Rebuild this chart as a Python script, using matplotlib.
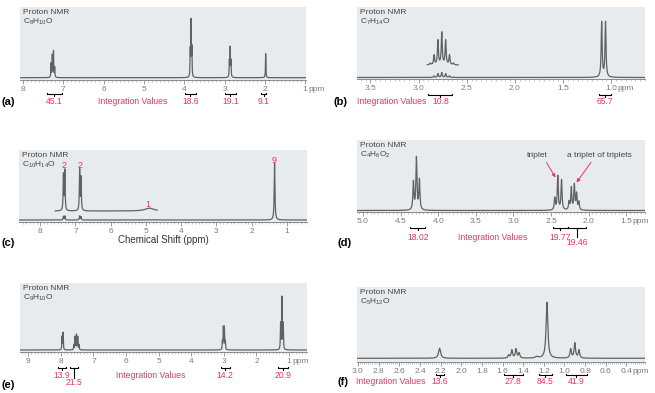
import matplotlib.pyplot as plt
import numpy as np
from matplotlib import transforms

plt.rcParams['font.family'] = ['Liberation Sans', 'DejaVu Sans']
plt.rcParams['mathtext.default'] = 'regular'

BG = '#e7ebee'
LINE = '#616161'
RED = '#ee3160'
TICK = '#7c7c7c'
TXT = '#444444'

# (a) C8H10O  -- peak shifts (ppm) and heights
a_shift = [7.30, 7.27, 7.24, 7.21, 3.85, 3.83, 3.81, 2.88, 2.86, 2.84, 1.98]
a_height = [14, 22, 26, 10, 26, 55, 28, 16, 29, 16, 24]
a_ticks = [8, 7, 6, 5, 4, 3, 2, 1]
a_int_labels = ['45.1', '18.6', '19.1', '9.1']
a_int_ranges = [(7.41, 7.04), (3.99, 3.70), (3.00, 2.71), (2.09, 1.97)]

# (b) C7H14O
b_shift = [2.88, 2.84, 2.80, 2.76, 2.72, 2.68, 2.64, 1.10, 1.06]
b_height = [0.25, 1.5, 3.8, 5.0, 3.8, 1.5, 0.25, 55, 55]
b_ticks = [3.5, 3.0, 2.5, 2.0, 1.5, 1.0]
b_int_labels = ['10.8', '65.7']
b_int_ranges = [(2.90, 2.65), (1.13, 1.00)]

# (c) C10H14O
c_shift = [7.34, 7.30, 6.88, 6.84, 4.90, 1.35]
c_height = [3.6, 4.0, 4.1, 3.3, 0.28, 57]
c_width = [0.01, 0.01, 0.01, 0.01, 0.15, 0.012]
c_ticks = [8, 7, 6, 5, 4, 3, 2, 1]
c_labels = ['2', '2', '1', '9']
c_label_pos = [(7.33, 54.5), (6.86, 54.5), (4.95, 15.5), (1.35, 60)]

# (d) C4H6O2
d_shift = [4.33, 4.29, 4.25, 2.45, 2.41, 2.36, 2.26, 2.23, 2.19, 2.16, 2.13]
d_height = [28, 52, 30, 12, 34, 30, 8, 22, 25, 16, 8]
d_ticks = [5.0, 4.5, 4.0, 3.5, 3.0, 2.5, 2.0, 1.5]
d_int_labels = ['18.02', '19.77', '19.46']
d_int_ranges = [(4.37, 4.17), (2.48, 2.27), (2.27, 2.04)]

# (e) C9H10O
e_shift = [7.96, 7.93, 7.60, 7.56, 7.52, 7.48, 7.44,
           3.045, 3.015, 2.985, 2.955, 1.26, 1.22, 1.18]
e_height = [13, 17, 5, 13, 15, 13, 5, 8, 22, 22, 8, 26, 52, 26]
e_ticks = [9, 8, 7, 6, 5, 4, 3, 2, 1]
e_int_labels = ['13.9', '21.5', '14.2', '20.9']
e_int_ranges = [(8.10, 7.85), (7.73, 7.46), (3.10, 2.82), (1.33, 1.03)]

# (f) C5H12O
f_shift = [2.21, 1.54, 1.51, 1.47, 1.44, 1.27, 1.17, 0.94, 0.90, 0.86]
f_height = [10, 3, 8, 9, 5, 1.5, 56, 9, 15, 8]
f_width = [0.012, 0.008, 0.008, 0.008, 0.008, 0.015, 0.010, 0.008, 0.008, 0.008]
f_ticks = [3.0, 2.8, 2.6, 2.4, 2.2, 2.0, 1.8, 1.6, 1.4, 1.2, 1.0, 0.8, 0.6, 0.4]
f_int_labels = ['13.6', '27.8', '84.5', '41.9']
f_int_ranges = [(2.24, 2.17), (1.59, 1.40), (1.25, 1.12), (0.99, 0.78)]

W, H = 655, 393
fig = plt.figure(figsize=(W / 100, H / 100), dpi=100)


def add_panel(x0, y0, x1, y1):
    return fig.add_axes([x0 / W, 1 - y1 / H, (x1 - x0) / W, (y1 - y0) / H])


def lorentz(x, shifts, heights, widths):
    y = np.zeros_like(x)
    widths = np.broadcast_to(widths, np.shape(shifts))
    for s, h, w in zip(shifts, heights, widths):
        y += h * w ** 2 / ((x - s) ** 2 + w ** 2)
    return y


def px_below(ax):
    # x in data, y in pixels measured from the bottom of the axes
    bottom = ax.get_position().y0 * H
    return transforms.blended_transform_factory(
        ax.transData, transforms.Affine2D().translate(0, bottom))


def setup(ax, xlim, ylim, ticks, fmt, minor, formula, ppm_dx=None):
    ax.set_facecolor(BG)
    ax.set_xlim(xlim)
    ax.set_ylim(ylim)
    ax.set_yticks([])
    for s in ['top', 'left', 'right']:
        ax.spines[s].set_visible(False)
    ax.spines['bottom'].set_color('#8a8a8a')
    ax.spines['bottom'].set_linewidth(0.7)
    ax.set_xticks(ticks)
    ax.set_xticklabels([fmt.format(t) for t in ticks])
    lo, hi = min(xlim), max(xlim)
    ax.set_xticks(np.arange(np.ceil(lo / minor) * minor, hi, minor), minor=True)
    ax.tick_params(axis='x', which='major', length=3, width=0.6, color='#8a8a8a',
                   labelsize=6, labelcolor=TICK, pad=1)
    ax.tick_params(axis='x', which='minor', length=1.6, width=0.4, color='#9a9a9a')
    ax.annotate('Proton NMR', xy=(0, 1), xycoords='axes fraction', xytext=(3, -2),
                textcoords='offset pixels', va='top', ha='left', fontsize=6, color=TXT)
    ax.annotate(formula, xy=(0, 1), xycoords='axes fraction', xytext=(3, -10),
                textcoords='offset pixels', va='top', ha='left', fontsize=6, color=TXT)
    if ppm_dx is not None:
        ax.text(ticks[-1], -5.6, 'ppm', transform=px_below(ax) + transforms.Affine2D().translate(ppm_dx, 0),
                ha='left', va='top', fontsize=6, color=TICK)


def spectrum(ax, shifts, heights, widths):
    x0, x1 = ax.get_xlim()
    x = np.linspace(x0, x1, 8000)
    ax.plot(x, lorentz(x, shifts, heights, widths), color=LINE, lw=0.9)


def bracket(ax, x0, x1, dy, label, ty, drop=0, tx=None):
    t = px_below(ax)
    xm = (x0 + x1) / 2
    ax.plot([x0, x0, x1, x1], [-dy + 1.5, -dy, -dy, -dy + 1.5], transform=t,
            clip_on=False, color='black', lw=0.8)
    ax.plot([xm, xm], [-dy, -dy - 1.8 - drop], transform=t, clip_on=False,
            color='black', lw=0.8)
    ax.text(xm if tx is None else tx, -ty, label, transform=t, ha='center', va='center',
            color=RED, fontsize=6.2)


def int_title(ax, x, ty):
    ax.text(x, -ty, 'Integration Values', transform=px_below(ax), ha='center',
            va='center', color=RED, fontsize=6.2)


def panel_label(x, y, s):
    fig.text(x / W, 1 - y / H, s, ha='left', va='center', fontsize=8,
             fontweight='bold', color='black')


# ---- (a)
ax = add_panel(20, 7, 306, 80)
setup(ax, (8.07, 0.98), (-2.3, 70.7), a_ticks, '{:g}', 0.1, r'C$_8$H$_{10}$O', ppm_dx=3)
spectrum(ax, a_shift, a_height, 0.006)
for lab, (x0, x1) in zip(a_int_labels, a_int_ranges):
    bracket(ax, x0, x1, 14, lab, 22)
int_title(ax, 5.27, 22)
panel_label(1, 102, '(a)')

# ---- (b)
ax = add_panel(357, 7, 645, 79)
setup(ax, (3.64, 0.65), (-1.5, 70.5), b_ticks, '{:.1f}', 0.05, r'C$_7$H$_{14}$O', ppm_dx=6)
spectrum(ax, b_shift, b_height, 0.006)
xin = np.linspace(2.91, 2.59, 400)
ax.plot(xin, 12.5 + 6.4 * lorentz(xin, b_shift[:7], b_height[:7], 0.006), color=LINE, lw=0.9)
for lab, (x0, x1) in zip(b_int_labels, b_int_ranges):
    bracket(ax, x0, x1, 16, lab, 23)
ax.text(3.28, -23, 'Integration Values', transform=px_below(ax), ha='center',
        va='center', color=RED, fontsize=6.2)
panel_label(333, 102, '(b)')

# ---- (c)
ax = add_panel(19, 150, 307, 222)
setup(ax, (8.6, 0.43), (-2, 70), c_ticks, '{:g}', 0.1, r'C$_{10}$H$_{14}$O')
spectrum(ax, c_shift, c_height, c_width)
xin = np.linspace(7.57, 4.68, 1500)
ax.plot(xin, 9 + 10 * lorentz(xin, c_shift[:5], c_height[:5], c_width[:5]), color=LINE, lw=0.9)
for lab, (x, y) in zip(c_labels, c_label_pos):
    ax.text(x, y, lab, ha='center', va='center', color=RED, fontsize=6.5)
ax.set_xlabel('Chemical Shift (ppm)', fontsize=7, color='#333333', labelpad=0.5)
panel_label(1, 243, '(c)')

# ---- (d)
ax = add_panel(357, 140, 645, 212)
setup(ax, (5.08, 1.25), (-1.5, 70.5), d_ticks, '{:.1f}', 0.05, r'C$_4$H$_6$O$_2$', ppm_dx=6)
spectrum(ax, d_shift, d_height, 0.008)
bracket(ax, *d_int_ranges[0], 16, d_int_labels[0], 25)
bracket(ax, *d_int_ranges[1], 16, d_int_labels[1], 25)
bracket(ax, *d_int_ranges[2], 16, d_int_labels[2], 30.5, drop=7)
int_title(ax, 3.28, 25)
ax.text(2.68, 55.5, 'triplet', ha='center', va='center', fontsize=6, color=TXT)
ax.text(1.86, 55.5, 'a triplet of triplets', ha='center', va='center', fontsize=6, color=TXT)
arrow = dict(arrowstyle='-|>', color=RED, lw=0.7, mutation_scale=5, shrinkA=0, shrinkB=0)
ax.annotate('', xy=(2.44, 33), xytext=(2.56, 48), arrowprops=arrow)
ax.annotate('', xy=(2.16, 28), xytext=(1.97, 48), arrowprops=arrow)
panel_label(337, 243, '(d)')

# ---- (e)
ax = add_panel(20, 283, 307, 352)
setup(ax, (9.25, 0.45), (-2, 67), e_ticks, '{:g}', 0.1, r'C$_9$H$_{10}$O', ppm_dx=3)
spectrum(ax, e_shift, e_height, 0.008)
bracket(ax, *e_int_ranges[0], 16, e_int_labels[0], 24)
bracket(ax, *e_int_ranges[1], 16, e_int_labels[1], 30.5, drop=8)
bracket(ax, *e_int_ranges[2], 16, e_int_labels[2], 24)
bracket(ax, *e_int_ranges[3], 16, e_int_labels[3], 24)
int_title(ax, 5.25, 24)
panel_label(1, 385, '(e)')

# ---- (f)
ax = add_panel(357, 287, 645, 362)
setup(ax, (3.01, 0.22), (-3.7, 71.3), f_ticks, '{:.1f}', 0.02, r'C$_5$H$_{12}$O', ppm_dx=6)
spectrum(ax, f_shift, f_height, f_width)
for lab, (x0, x1) in zip(f_int_labels, f_int_ranges):
    bracket(ax, x0, x1, 13, lab, 20)
ax.text(2.68, -20, 'Integration Values', transform=px_below(ax), ha='center',
        va='center', color=RED, fontsize=6.2)
panel_label(337, 382, '(f)')

fig.savefig('out.png', dpi=100)
